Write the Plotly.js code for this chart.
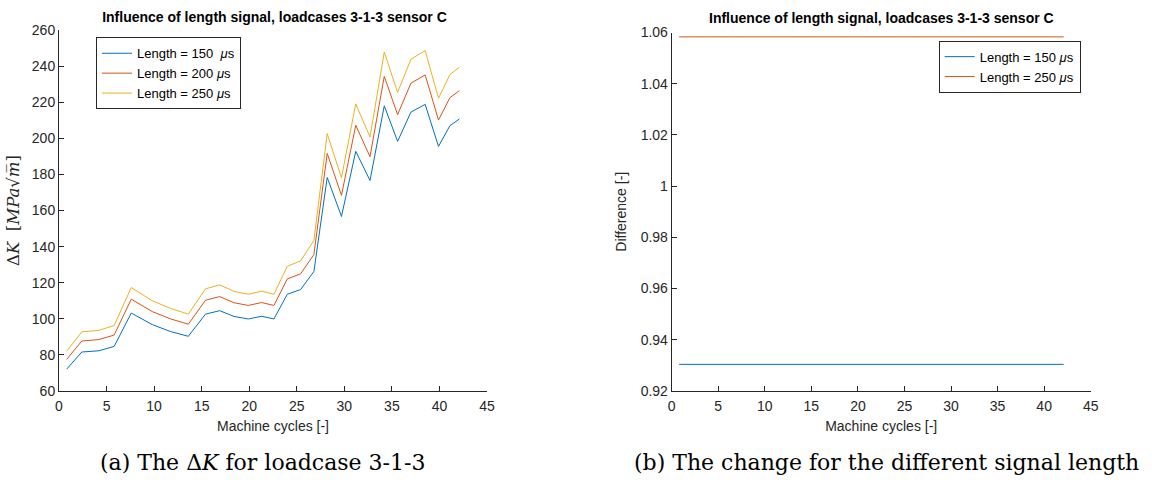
<!DOCTYPE html>
<html>
<head>
<meta charset="utf-8">
<script src="https://cdn.plot.ly/plotly-3.0.1.min.js"></script>
<style>html,body{margin:0;padding:0;background:#fff;} #chart{width:1152px;height:485px;}</style>
</head>
<body>
<div id="chart"></div>
<script>
// ---- data ----
const cycles = [0.8, 2.4, 4.2, 5.8, 7.6, 9.8, 11.7, 13.6, 15.4, 16.9, 18.4, 19.9, 21.3, 22.6,
                24.0, 25.4, 26.8, 28.2, 29.7, 31.2, 32.7, 34.2, 35.6, 37.0, 38.5, 39.9, 41.1, 42.1];
const dK150 = [72.1, 81.6, 82.3, 84.7, 103.2, 96.8, 93.0, 90.3, 102.6, 104.5, 101.3, 99.9, 101.4, 99.9,
               113.6, 116.2, 126.2, 178.3, 156.7, 192.8, 176.6, 218.0, 198.3, 214.5, 218.8, 195.5, 207.0, 210.7];
const dK200 = [77.5, 87.7, 88.5, 91.0, 110.9, 104.0, 100.0, 97.0, 110.3, 112.3, 108.9, 107.4, 109.0, 107.4,
               122.1, 124.9, 135.6, 191.6, 168.4, 207.2, 189.8, 234.3, 213.1, 230.5, 235.1, 210.1, 222.5, 226.4];
const dK250 = [82.0, 92.8, 93.6, 96.3, 117.3, 110.0, 105.8, 102.6, 116.6, 118.8, 115.2, 113.6, 115.3, 113.6,
               129.1, 132.1, 143.4, 202.6, 178.1, 219.1, 200.7, 247.8, 225.4, 243.8, 248.6, 222.2, 235.3, 239.4];
const diff150 = [0.9304, 0.9304, 0.9304, 0.9304, 0.9304, 0.9304, 0.9304, 0.9304, 0.9304, 0.9304, 0.9304, 0.9304, 0.9304, 0.9304,
                 0.9304, 0.9304, 0.9304, 0.9304, 0.9304, 0.9304, 0.9304, 0.9304, 0.9304, 0.9304, 0.9304, 0.9304, 0.9304, 0.9304];
const diff250 = [1.0583, 1.0583, 1.0583, 1.0583, 1.0583, 1.0583, 1.0583, 1.0583, 1.0583, 1.0583, 1.0583, 1.0583, 1.0583, 1.0583,
                 1.0583, 1.0583, 1.0583, 1.0583, 1.0583, 1.0583, 1.0583, 1.0583, 1.0583, 1.0583, 1.0583, 1.0583, 1.0583, 1.0583];
const xTicks = [0, 5, 10, 15, 20, 25, 30, 35, 40, 45];
const yTicksLeft = [60, 80, 100, 120, 140, 160, 180, 200, 220, 240, 260];
const yTicksRight = [0.92, 0.94, 0.96, 0.98, 1.00, 1.02, 1.04, 1.06];
const yTickTextRight = ["0.92", "0.94", "0.96", "0.98", "1", "1.02", "1.04", "1.06"];
const names3 = ["Length = 150  <i>μ</i>s", "Length = 200 <i>μ</i>s", "Length = 250 <i>μ</i>s"];
const names2 = ["Length = 150 <i>μ</i>s", "Length = 250 <i>μ</i>s"];
const titleText = "Influence of length signal, loadcases 3-1-3 sensor C";

const C = ["#0072BD", "#D95319", "#EDB120"];
const W = 1152, H = 485;
const px = v => v / W, py = v => 1 - v / H;
const AX = '#262626';
const sans = 'Liberation Sans, Arial, sans-serif';
const serif = 'DejaVu Serif, Liberation Serif, serif';

const traces = [
  {x: cycles, y: dK150, name: names3[0], type: 'scatter', mode: 'lines', line: {color: C[0], width: 1}, xaxis: 'x', yaxis: 'y', legend: 'legend'},
  {x: cycles, y: dK200, name: names3[1], type: 'scatter', mode: 'lines', line: {color: C[1], width: 1}, xaxis: 'x', yaxis: 'y', legend: 'legend'},
  {x: cycles, y: dK250, name: names3[2], type: 'scatter', mode: 'lines', line: {color: C[2], width: 1}, xaxis: 'x', yaxis: 'y', legend: 'legend'},
  {x: cycles, y: diff150, name: names2[0], type: 'scatter', mode: 'lines', line: {color: C[0], width: 1}, xaxis: 'x2', yaxis: 'y2', legend: 'legend2'},
  {x: cycles, y: diff250, name: names2[1], type: 'scatter', mode: 'lines', line: {color: C[1], width: 1}, xaxis: 'x2', yaxis: 'y2', legend: 'legend2'}
];

const axCommon = {
  showline: true, linecolor: AX, linewidth: 1, mirror: false,
  ticks: 'inside', ticklen: 5, tickcolor: AX, tickwidth: 1,
  showgrid: false, zeroline: false,
  tickfont: {family: sans, size: 14, color: AX},
  fixedrange: true
};

const legCommon = {
  bgcolor: '#ffffff', bordercolor: AX, borderwidth: 1,
  font: {family: sans, size: 13, color: '#000'},
  tracegroupgap: 0, itemwidth: 30, yanchor: 'top'
};

const layout = {
  width: W, height: H,
  margin: {l: 0, r: 0, t: 0, b: 0},
  paper_bgcolor: '#fff', plot_bgcolor: '#fff',
  showlegend: true,
  title: {text: '<b>' + titleText + '</b>', font: {family: sans, size: 14, color: '#000'},
          xref: 'paper', x: px(274.5), xanchor: 'center', yref: 'container', y: py(17), yanchor: 'middle'},
  xaxis: Object.assign({}, axCommon, {domain: [px(59), px(487)], range: [0, 45], tickvals: xTicks, anchor: 'y',
          ticklabelstandoff: 2,
          title: {text: 'Machine cycles [-]', font: {family: sans, size: 14, color: AX}, standoff: 8}}),
  yaxis: Object.assign({}, axCommon, {domain: [py(391), py(30)], range: [60, 260], tickvals: yTicksLeft, anchor: 'x',
          title: {text: 'Δ<i>K</i>  [<i>MPa</i>√<i>m̅</i>]', font: {family: serif, size: 16.5, color: AX}, standoff: 8}}),
  xaxis2: Object.assign({}, axCommon, {domain: [px(671.7), px(1090.7)], range: [0, 45], tickvals: xTicks, anchor: 'y2',
          ticklabelstandoff: 2,
          title: {text: 'Machine cycles [-]', font: {family: sans, size: 14, color: AX}, standoff: 8}}),
  yaxis2: Object.assign({}, axCommon, {domain: [py(391), py(32.5)], range: [0.92, 1.06], tickvals: yTicksRight, ticktext: yTickTextRight, anchor: 'x2',
          title: {text: 'Difference [-]', font: {family: sans, size: 14, color: AX}, standoff: 10}}),
  legend: Object.assign({}, legCommon, {x: px(96), xanchor: 'left', y: py(37.3)}),
  legend2: Object.assign({}, legCommon, {x: px(1080.7), xanchor: 'right', y: py(40.7)}),
  annotations: [
    {text: '<b>' + titleText + '</b>', xref: 'paper', yref: 'paper', x: px(881.5), y: py(18), xanchor: 'center', yanchor: 'middle',
     showarrow: false, font: {family: sans, size: 14, color: '#000'}},
    {text: '(a) The Δ<i>K</i> for loadcase 3-1-3', xref: 'paper', yref: 'paper', x: px(262), y: py(462), xanchor: 'center', yanchor: 'middle',
     showarrow: false, font: {family: serif, size: 22, color: '#000'}},
    {text: '(b) The change for the different signal length', xref: 'paper', yref: 'paper', x: px(631.7), y: py(462), xanchor: 'left', yanchor: 'middle',
     showarrow: false, font: {family: serif, size: 22, color: '#000'}}
  ]
};

Plotly.newPlot('chart', traces, layout, {displayModeBar: false, staticPlot: true});
</script>
</body>
</html>
